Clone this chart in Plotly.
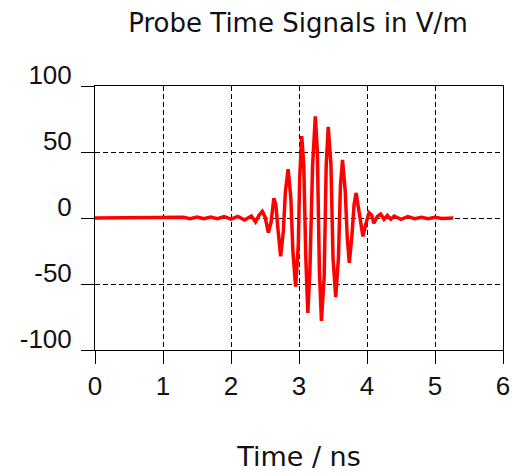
import plotly.graph_objects as go

# Time samples (ns) and probe signal (V/m)
time_ns = [0.0, 1.25, 1.30, 1.40, 1.50, 1.60, 1.70, 1.80, 1.90, 2.00, 2.10, 2.20, 2.30,
           2.36, 2.41, 2.46, 2.50, 2.55, 2.59, 2.63, 2.66, 2.69, 2.73, 2.77, 2.80,
           2.84, 2.88, 2.91, 2.95, 2.99, 3.01, 3.04, 3.07, 3.10, 3.13, 3.16, 3.20,
           3.24, 3.27, 3.30, 3.33, 3.37, 3.40, 3.43, 3.47, 3.50, 3.54, 3.58, 3.61,
           3.64, 3.68, 3.71, 3.74, 3.78, 3.81, 3.84, 3.88, 3.91, 3.94, 3.98, 4.03,
           4.07, 4.10, 4.15, 4.20, 4.25, 4.30, 4.35, 4.40, 4.50, 4.60, 4.70, 4.80,
           4.90, 5.00, 5.10, 5.27]
signal_vm = [0.0, 0.0, 0.5, -0.5, 0.8, -0.5, 0.8, -0.6, 1.0, -0.8, 1.2, -1.5, 1.5,
             -3.0, 2.0, 5.0, 1.0, -11.0, -3.0, 15.0, 10.0, -8.0, -29.0, -10.0, 20.0,
             37.0, 15.0, -25.0, -52.0, -20.0, 30.0, 62.0, 40.0, -30.0, -72.0, -40.0, 40.0,
             77.0, 50.0, -40.0, -78.0, -45.0, 40.0, 69.0, 40.0, -30.0, -60.0, -30.0, 25.0,
             44.0, 20.0, -15.0, -34.0, -12.0, 10.0, 19.0, 5.0, -5.0, -14.0, -5.0, 4.0,
             2.0, -4.0, 1.0, 3.0, -1.0, 2.0, -1.0, 1.5, -1.0, 1.0, -0.5, 0.5,
             -0.5, 0.5, -0.3, 0.0]

x_ticks = [0, 1, 2, 3, 4, 5, 6]
y_ticks = [-100, -50, 0, 50, 100]

tick_font = "Liberation Sans, Arial, sans-serif"
title_font = "DejaVu Sans, Verdana, sans-serif"

fig = go.Figure()
fig.add_trace(go.Scatter(x=time_ns, y=signal_vm, mode="lines",
                         line=dict(color="#ff0000", width=3.5), showlegend=False))

axis_common = dict(showline=True, linecolor="black", linewidth=1, mirror=True,
                   ticks="outside", ticklen=13, tickcolor="black", tickwidth=1,
                   showgrid=True, gridcolor="black", gridwidth=1, griddash="5px,3px",
                   zeroline=False, automargin=False,
                   tickfont=dict(family=tick_font, size=26, color="#111"))

fig.update_layout(
    width=512, height=473,
    margin=dict(l=95, r=9, t=86, b=123),
    paper_bgcolor="white", plot_bgcolor="white",
    font=dict(family=tick_font, color="#111"),
    title=dict(text="Probe Time Signals in V/m", x=298/512, xanchor="center",
               y=1 - 23/473, yanchor="middle",
               font=dict(size=26, family=title_font, color="#111")),
    xaxis=dict(range=[0, 6], tickvals=x_ticks, ticktext=[str(v) for v in x_ticks],
               ticklabeloverflow="allow",
               title=dict(text="Time / ns", standoff=46,
                          font=dict(size=27, family=title_font, color="#111")),
               **axis_common),
    yaxis=dict(range=[-100, 100], tickvals=y_ticks, ticktext=[str(v) for v in y_ticks],
               ticklabelposition="outside", ticklabelshift=-11, ticklabelstandoff=4,
               **axis_common),
)

fig.write_html("out.html")
